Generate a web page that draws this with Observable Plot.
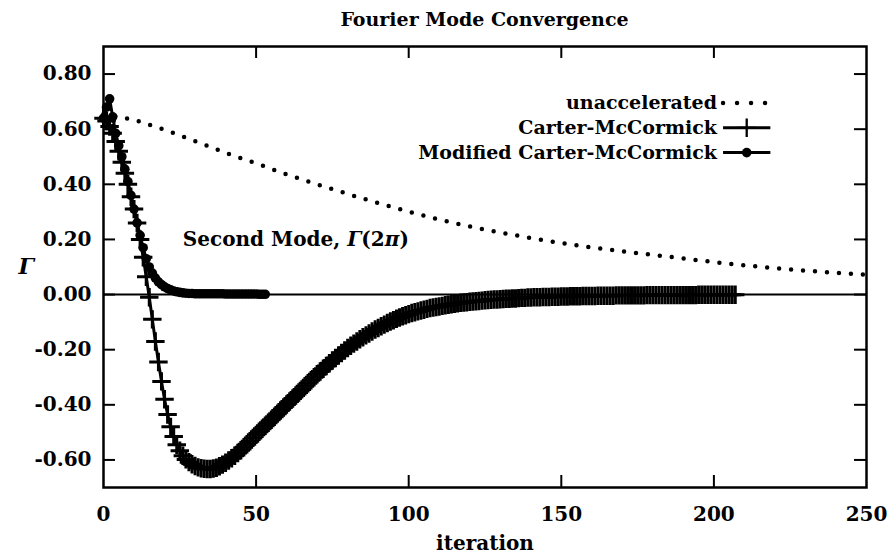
<!DOCTYPE html>
<html>
<head>
<meta charset="utf-8">
<script src="https://cdn.jsdelivr.net/npm/d3@7"></script>
<script src="https://cdn.jsdelivr.net/npm/@observablehq/plot@0.6"></script>
<style>
  body { margin: 0; background: #fff; }
  #title { box-sizing: border-box; height: 36px; padding: 10px 23px 0 103px; text-align: center;
           font: bold 19px "DejaVu Serif"; line-height: 1; color: #000; }
  #chart svg { display: block; }
</style>
</head>
<body>
<div id="title">Fourier Mode Convergence</div>
<div id="chart"></div>
<script>
// ---- data ----
const xTicks = [0, 50, 100, 150, 200, 250];
const yTicks = [-0.6, -0.4, -0.2, 0, 0.2, 0.4, 0.6, 0.8];

const unaccIter = [0, 10, 20, 30, 40, 50, 60, 70, 80, 90, 100, 110, 120, 130, 140, 150, 160, 170, 180, 190, 200, 210, 220, 230, 240, 250];
const unaccVal  = [0.655, 0.634, 0.598, 0.557, 0.514, 0.476, 0.436, 0.400, 0.365, 0.332, 0.301, 0.272, 0.247, 0.225, 0.205, 0.187, 0.171, 0.157, 0.144, 0.131, 0.118, 0.106, 0.096, 0.087, 0.079, 0.072];

// Carter-McCormick, one value per iteration 0..207
const cmVal = [
  0.64, 0.63, 0.61, 0.585, 0.555, 0.52, 0.48, 0.44, 0.40, 0.355,
  0.31, 0.26, 0.20, 0.135, 0.065, -0.01, -0.09, -0.17, -0.245, -0.315,
  -0.38, -0.435, -0.48, -0.515, -0.545, -0.567, -0.585, -0.598, -0.608, -0.616,
  -0.622, -0.627, -0.63, -0.632, -0.633, -0.633, -0.631, -0.628, -0.623, -0.617,
  -0.61, -0.602, -0.594, -0.585, -0.575, -0.565, -0.554, -0.543, -0.532, -0.52,
  -0.509, -0.498, -0.487, -0.476, -0.465, -0.454, -0.443, -0.432, -0.421, -0.41,
  -0.399, -0.388, -0.377, -0.366, -0.355, -0.344, -0.333, -0.322, -0.311, -0.3,
  -0.289, -0.279, -0.269, -0.259, -0.249, -0.239, -0.23, -0.221, -0.212, -0.203,
  -0.194, -0.186, -0.178, -0.17, -0.162, -0.155, -0.148, -0.141, -0.134, -0.127,
  -0.121, -0.115, -0.109, -0.103, -0.098, -0.093, -0.088, -0.083, -0.079, -0.075,
  -0.071, -0.067, -0.064, -0.061, -0.058, -0.055, -0.052, -0.049, -0.047, -0.045,
  -0.043, -0.041, -0.039, -0.037, -0.035, -0.033, -0.032, -0.03, -0.029, -0.028,
  -0.026, -0.025, -0.024, -0.023, -0.022, -0.021, -0.02, -0.019, -0.018, -0.018,
  -0.017, -0.016, -0.015, -0.015, -0.014, -0.014, -0.013, -0.012, -0.012, -0.011,
  -0.011, -0.01, -0.01, -0.01, -0.009, -0.009, -0.009, -0.008, -0.008, -0.008,
  -0.007, -0.007, -0.007, -0.006, -0.006, -0.006, -0.006, -0.005, -0.005, -0.005,
  -0.005, -0.005, -0.004, -0.004, -0.004, -0.004, -0.004, -0.004, -0.003, -0.003,
  -0.003, -0.003, -0.003, -0.003, -0.003, -0.003, -0.003, -0.003, -0.002, -0.002,
  -0.002, -0.002, -0.002, -0.002, -0.002, -0.002, -0.002, -0.002, -0.002, -0.002,
  -0.002, -0.002, -0.002, -0.002, -0.002, -0.001, -0.001, -0.001, -0.001, -0.001,
  -0.001, -0.001, -0.001, -0.001, -0.001, -0.001, -0.001, -0.001
];

// Modified Carter-McCormick, one value per iteration 0..53
const mcmVal = [
  0.64, 0.68, 0.71, 0.645, 0.585, 0.54, 0.50, 0.455, 0.41, 0.36,
  0.31, 0.26, 0.215, 0.17, 0.13, 0.10, 0.078, 0.06, 0.046, 0.036,
  0.028, 0.022, 0.017, 0.013, 0.01, 0.008, 0.006, 0.005, 0.004, 0.004,
  0.003, 0.003, 0.003, 0.003, 0.003, 0.003, 0.003, 0.003, 0.003, 0.003,
  0.002, 0.002, 0.002, 0.002, 0.002, 0.002, 0.002, 0.002, 0.002, 0.002,
  0.002, 0.001, 0.001, 0.001
];

const seriesNames = ["unaccelerated", "Carter-McCormick", "Modified Carter-McCormick"];
const modeLabel = "Second Mode, Γ(2π)";
const yLabel = "Γ";
const xLabel = "iteration";

// ---- layout (key and label placement, in data units) ----
const keyRowY = [0.695, 0.605, 0.515];
const keyTextX = 201;
const keySampleX = [203, 218.5];
const labelAt = [26, 0.2];

const unacc = unaccIter.map((x, i) => ({x, y: unaccVal[i]}));
const cm = cmVal.map((y, i) => ({x: i, y}));
const mcm = mcmVal.map((y, i) => ({x: i, y}));
const keyRows = seriesNames.map((t, i) => ({t, y: keyRowY[i]}));

const innerW = 889 - 103 - 23, innerH = 521 - 10 - 70, tk = 12;
const ink = "#000";
const plusR = 6, plusW = 3, circR = 4.8;

const chart = Plot.plot({
  width: 889, height: 521,
  marginLeft: 103, marginRight: 23, marginTop: 10, marginBottom: 70,
  x: {domain: [0, 250]},
  y: {domain: [-0.7, 0.9]},
  style: {fontFamily: "DejaVu Serif", fontWeight: "bold", fontSize: "20px", color: ink, background: "#fff"},
  marks: [
    Plot.ruleY([0], {stroke: ink, strokeWidth: 2}),
    // unaccelerated (dotted)
    Plot.line(unacc, {x: "x", y: "y", stroke: ink, strokeWidth: 4.5, strokeDasharray: "0,12", strokeLinecap: "round"}),
    // Carter-McCormick (line + plus)
    Plot.line(cm, {x: "x", y: "y", stroke: ink, strokeWidth: 3}),
    Plot.dot(cm, {x: "x", y: "y", symbol: "plus", r: plusR, stroke: ink, strokeWidth: plusW}),
    // Modified Carter-McCormick (line + filled circle)
    Plot.line(mcm, {x: "x", y: "y", stroke: ink, strokeWidth: 3}),
    Plot.dot(mcm, {x: "x", y: "y", r: circR, fill: ink, stroke: "none"}),
    // key
    Plot.text(keyRows, {x: () => keyTextX, y: "y", text: "t", textAnchor: "end", fontSize: 19}),
    Plot.link([keyRowY[0]], {x1: () => keySampleX[0], x2: () => keySampleX[1], y1: d => d, y2: d => d,
      stroke: ink, strokeWidth: 4.5, strokeDasharray: "0,14", strokeLinecap: "round"}),
    Plot.link([keyRowY[1], keyRowY[2]], {x1: () => keySampleX[0], x2: () => keySampleX[1], y1: d => d, y2: d => d,
      stroke: ink, strokeWidth: 3}),
    Plot.dot([keyRowY[1]], {x: () => (keySampleX[0] + keySampleX[1]) / 2, y: d => d, symbol: "plus", r: plusR, stroke: ink, strokeWidth: 2.3}),
    Plot.dot([keyRowY[2]], {x: () => (keySampleX[0] + keySampleX[1]) / 2, y: d => d, r: circR, fill: ink}),
    // in-plot label
    Plot.text([modeLabel], {x: () => labelAt[0], y: () => labelAt[1], text: d => d, textAnchor: "start", fontSize: 20, className: "modelabel"}),
    // frame and inward ticks on all four sides
    Plot.frame({stroke: ink, strokeWidth: 2.5}),
    Plot.tickY(yTicks, {y: d => d, insetRight: innerW - tk, stroke: ink, strokeWidth: 2}),
    Plot.tickY(yTicks, {y: d => d, insetLeft: innerW - tk, stroke: ink, strokeWidth: 2}),
    Plot.tickX(xTicks.slice(1, -1), {x: d => d, insetTop: innerH - tk, stroke: ink, strokeWidth: 2}),
    Plot.tickX(xTicks.slice(1, -1), {x: d => d, insetBottom: innerH - tk, stroke: ink, strokeWidth: 2}),
    // tick labels
    Plot.axisY({ticks: yTicks, tickSize: 0, tickPadding: 12, tickFormat: d => d.toFixed(2), label: null, fontSize: 20}),
    Plot.axisX({ticks: xTicks, tickSize: 0, tickPadding: 19, tickFormat: d => String(d), label: null, fontSize: 20}),
    // axis titles
    Plot.text([xLabel], {frameAnchor: "bottom", dy: 62, text: d => d, fontSize: 20}),
    Plot.text([yLabel], {frameAnchor: "left", dx: -85, text: d => d, fontSize: 22, fontStyle: "italic"})
  ]
});
document.getElementById("chart").appendChild(chart);

// italic Γ and π inside the mode label, as in the original typesetting
d3.select(chart).selectAll("g.modelabel text").each(function () {
  const t = d3.select(this);
  t.text(null);
  t.append("tspan").text("Second Mode, ");
  t.append("tspan").attr("font-style", "italic").text("Γ");
  t.append("tspan").text("(2");
  t.append("tspan").attr("font-style", "italic").text("π");
  t.append("tspan").text(")");
});
</script>
</body>
</html>
